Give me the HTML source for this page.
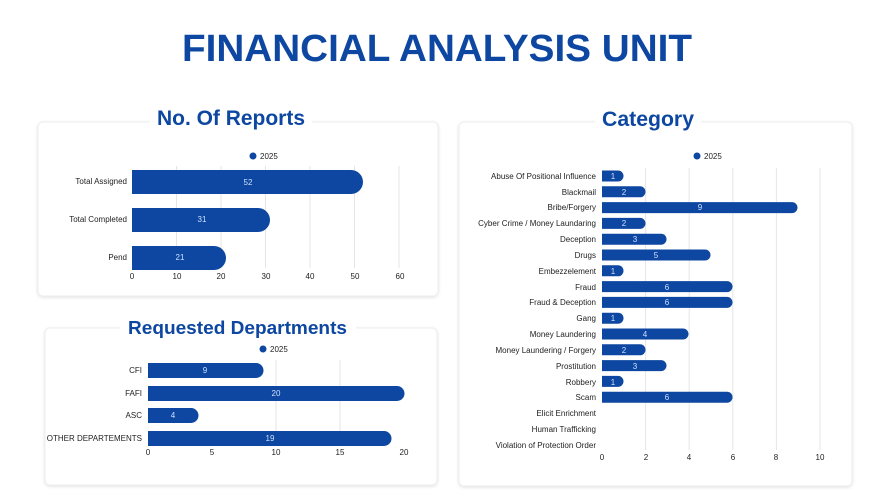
<!DOCTYPE html>
<html><head><meta charset="utf-8"><style>
body{margin:0;width:882px;height:497px;background:#fff;overflow:hidden;font-family:"Liberation Sans",sans-serif}
</style></head><body>
<svg width="882" height="497" xmlns="http://www.w3.org/2000/svg" font-family="Liberation Sans, sans-serif">
<defs><filter id="sh" x="-5%" y="-5%" width="110%" height="110%"><feDropShadow dx="0" dy="1" stdDeviation="1.5" flood-color="#000" flood-opacity="0.12"/></filter></defs>
<text x="182" y="61" textLength="510" lengthAdjust="spacingAndGlyphs" font-size="38" font-weight="bold" fill="#0d47a1">FINANCIAL ANALYSIS UNIT</text>
<rect x="38" y="122" width="400" height="174" rx="5" fill="#fff" stroke="#eee" filter="url(#sh)"/>
<rect x="45" y="328" width="392" height="157" rx="5" fill="#fff" stroke="#eee" filter="url(#sh)"/>
<rect x="459" y="122" width="393" height="364" rx="5" fill="#fff" stroke="#eee" filter="url(#sh)"/>
<rect x="150" y="104" width="162" height="26" fill="#fff"/>
<text x="157" y="125" textLength="148" lengthAdjust="spacingAndGlyphs" font-size="21" font-weight="bold" fill="#0d47a1">No. Of Reports</text>
<rect x="120" y="314" width="236" height="24" fill="#fff"/>
<text x="128" y="334" textLength="219" lengthAdjust="spacingAndGlyphs" font-size="18.5" font-weight="bold" fill="#0d47a1">Requested Departments</text>
<rect x="595" y="104" width="106" height="26" fill="#fff"/>
<text x="602" y="126" textLength="92" lengthAdjust="spacingAndGlyphs" font-size="21" font-weight="bold" fill="#0d47a1">Category</text>
<g font-size="8" fill="#222">
<circle cx="253" cy="156" r="3.5" fill="#0d47a1"/><text x="260" y="159">2025</text>
<g stroke="#e5e5e5"><line x1="176.5" y1="166" x2="176.5" y2="268"/><line x1="221" y1="166" x2="221" y2="268"/><line x1="265.5" y1="166" x2="265.5" y2="268"/><line x1="310" y1="166" x2="310" y2="268"/><line x1="354.5" y1="166" x2="354.5" y2="268"/><line x1="399" y1="166" x2="399" y2="268"/></g>
<path d="M132 170h219a12 12 0 0 1 0 24h-219z" fill="#0d47a1"/>
<path d="M132 208h126a12 12 0 0 1 0 24h-126z" fill="#0d47a1"/>
<path d="M132 246h82a12 12 0 0 1 0 24h-82z" fill="#0d47a1"/>
<g fill="#cfe0ff" text-anchor="middle"><text x="248" y="185">52</text><text x="202" y="222">31</text><text x="180" y="260">21</text></g>
<g text-anchor="end"><text x="127" y="184">Total Assigned</text><text x="127" y="222">Total Completed</text><text x="127" y="260">Pend</text></g>
<g text-anchor="middle"><text x="132" y="279">0</text><text x="177" y="279">10</text><text x="221" y="279">20</text><text x="266" y="279">30</text><text x="310" y="279">40</text><text x="355" y="279">50</text><text x="400" y="279">60</text></g>
<circle cx="263" cy="349" r="3.5" fill="#0d47a1"/><text x="270" y="352">2025</text>
<g stroke="#e5e5e5"><line x1="276" y1="360" x2="276" y2="446"/><line x1="340" y1="360" x2="340" y2="446"/></g>
<path d="M148 363h108a7.5 7.5 0 0 1 0 15h-108z" fill="#0d47a1"/>
<path d="M148 386h249a7.5 7.5 0 0 1 0 15h-249z" fill="#0d47a1"/>
<path d="M148 408h43a7.5 7.5 0 0 1 0 15h-43z" fill="#0d47a1"/>
<path d="M148 431h236a7.5 7.5 0 0 1 0 15h-236z" fill="#0d47a1"/>
<g fill="#cfe0ff" text-anchor="middle"><text x="205" y="373">9</text><text x="276" y="396">20</text><text x="173" y="418">4</text><text x="270" y="441">19</text></g>
<g text-anchor="end"><text x="142" y="373">CFI</text><text x="142" y="396">FAFI</text><text x="142" y="418">ASC</text><text x="142" y="441">OTHER DEPARTEMENTS</text></g>
<g text-anchor="middle"><text x="148" y="455">0</text><text x="212" y="455">5</text><text x="276" y="455">10</text><text x="340" y="455">15</text><text x="404" y="455">20</text></g>
<circle cx="697" cy="156" r="3.5" fill="#0d47a1"/><text x="704" y="159">2025</text>
<g stroke="#e5e5e5"><line x1="645.6" y1="168" x2="645.6" y2="450"/><line x1="689.2" y1="168" x2="689.2" y2="450"/><line x1="732.8" y1="168" x2="732.8" y2="450"/><line x1="776.4" y1="168" x2="776.4" y2="450"/><line x1="820" y1="168" x2="820" y2="450"/></g>
<g fill="#0d47a1">
<path d="M602 170.5h16a5.5 5.5 0 0 1 0 11h-16z"/>
<path d="M602 186.3h38a5.5 5.5 0 0 1 0 11h-38z"/>
<path d="M602 202.1h190a5.5 5.5 0 0 1 0 11h-190z"/>
<path d="M602 217.9h38a5.5 5.5 0 0 1 0 11h-38z"/>
<path d="M602 233.7h59a5.5 5.5 0 0 1 0 11h-59z"/>
<path d="M602 249.5h103a5.5 5.5 0 0 1 0 11h-103z"/>
<path d="M602 265.3h16a5.5 5.5 0 0 1 0 11h-16z"/>
<path d="M602 281.1h125a5.5 5.5 0 0 1 0 11h-125z"/>
<path d="M602 296.9h125a5.5 5.5 0 0 1 0 11h-125z"/>
<path d="M602 312.7h16a5.5 5.5 0 0 1 0 11h-16z"/>
<path d="M602 328.5h81a5.5 5.5 0 0 1 0 11h-81z"/>
<path d="M602 344.3h38a5.5 5.5 0 0 1 0 11h-38z"/>
<path d="M602 360.1h59a5.5 5.5 0 0 1 0 11h-59z"/>
<path d="M602 375.9h16a5.5 5.5 0 0 1 0 11h-16z"/>
<path d="M602 391.7h125a5.5 5.5 0 0 1 0 11h-125z"/>
</g>
<g fill="#cfe0ff" text-anchor="middle">
<text x="613" y="179">1</text><text x="624" y="195">2</text><text x="700" y="210">9</text><text x="624" y="226">2</text><text x="635" y="242">3</text><text x="656" y="258">5</text><text x="613" y="274">1</text><text x="667" y="290">6</text><text x="667" y="305">6</text><text x="613" y="321">1</text><text x="645" y="337">4</text><text x="624" y="353">2</text><text x="635" y="369">3</text><text x="613" y="385">1</text><text x="667" y="400">6</text>
</g>
<g text-anchor="end">
<text x="596" y="179">Abuse Of Positional Influence</text><text x="596" y="195">Blackmail</text><text x="596" y="210">Bribe/Forgery</text><text x="596" y="226">Cyber Crime / Money Laundaring</text><text x="596" y="242">Deception</text><text x="596" y="258">Drugs</text><text x="596" y="274">Embezzelement</text><text x="596" y="290">Fraud</text><text x="596" y="305">Fraud &amp; Deception</text><text x="596" y="321">Gang</text><text x="596" y="337">Money Laundering</text><text x="596" y="353">Money Laundering / Forgery</text><text x="596" y="369">Prostitution</text><text x="596" y="385">Robbery</text><text x="596" y="400">Scam</text><text x="596" y="416">Elicit Enrichment</text><text x="596" y="432">Human Trafficking</text><text x="596" y="448">Violation of Protection Order</text>
</g>
<g text-anchor="middle"><text x="602" y="460">0</text><text x="646" y="460">2</text><text x="689" y="460">4</text><text x="733" y="460">6</text><text x="776" y="460">8</text><text x="820" y="460">10</text></g>
</g>
</svg>
</body></html>
